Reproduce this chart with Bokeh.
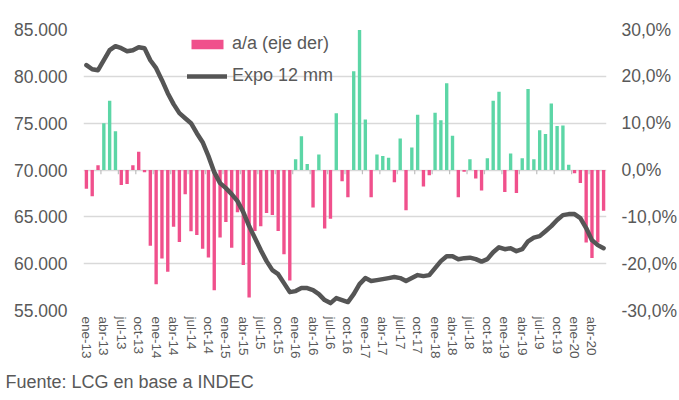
from bokeh.plotting import figure
from bokeh.models import (Range1d, LinearAxis, FixedTicker, Title, Legend,
                          LegendItem, ColumnDataSource)
from bokeh.embed import file_html
from bokeh.resources import INLINE

# ---------------- data ----------------
month_names = ["ene", "feb", "mar", "abr", "may", "jun",
               "jul", "ago", "sep", "oct", "nov", "dic"]
years = ["13", "14", "15", "16", "17", "18", "19", "20"]
n_months = 90  # ene-13 .. jun-20
labels = [f"{m}-{y}" for y in years for m in month_names][:n_months]

# a/a (eje der), % interanual
yoy = [-4.0, -5.6, 1.0, 10.0, 14.8, 8.3, -3.2, -3.0, 1.0, 3.9, -0.5, -16.2,
       -24.4, -18.9, -21.7, -12.1, -15.4, -5.2, -13.1, -13.9, -16.8, -18.7, -25.7, -14.4,
       -11.1, -16.6, -9.0, -20.3, -27.2, -13.0, -12.0, -9.2, -9.6, -13.0, -18.0, -23.6,
       2.3, 7.2, 1.3, -8.0, 3.3, -12.5, -10.4, 12.1, -2.4, -5.8, 21.1, 29.9,
       10.8, -5.8, 3.3, 3.0, 2.6, -2.6, 6.7, -8.6, 4.8, 11.8, -3.5, -1.1,
       12.2, 10.6, 18.5, 7.3, -5.8, -0.4, 2.3, -1.8, -4.4, 2.5, 14.8, 16.7,
       -4.7, 3.5, -4.9, 2.5, 17.3, 2.3, 8.5, 7.7, 14.2, 9.4, 9.5, 1.1,
       -0.7, -2.8, -15.5, -18.8, -15.5, -8.7]

# Expo 12 mm (millones USD)
expo = [81200, 80760, 80650, 81720, 82790, 83220, 83000, 82680, 82790, 83110, 83000, 81720,
        80870, 79590, 78200, 77030, 76070, 75530, 75000, 73930, 72970, 71480, 69770, 68600,
        68060, 67420, 66680, 65500, 64010, 62730, 61450, 60270, 59310, 58880, 57920, 56960,
        57070, 57390, 57390, 57180, 56750, 56110, 55790, 56320, 56110, 55900, 56750, 57820,
        58460, 58140, 58240, 58350, 58460, 58570, 58460, 58140, 58460, 58780, 58670, 58780,
        59530, 60270, 60800, 60800, 60480, 60590, 60640, 60480, 60220, 60480, 61220, 61750,
        61540, 61650, 61330, 61540, 62390, 62780, 62940, 63470, 64010, 64660, 65180, 65290,
        65290, 64860, 63800, 62510, 61980, 61650]

# positive months that the source draws in the "a/a" (pink) colour
pink_positive = ["mar-13", "sep-13", "oct-13"]

left_ticks = [55000, 60000, 65000, 70000, 75000, 80000, 85000]
right_ticks = [-30, -20, -10, 0, 10, 20, 30]
source_text = "Fuente: LCG en base a INDEC"

# ---------------- styles ----------------
PINK = "#F0508C"
GREEN = "#5CD6A6"
LINE = "#555555"
TEXT = "#595959"
GRID = "#D9D9D9"
FONT = "Liberation Sans"

xs = list(range(n_months))
pink_idx = [i for i in xs if yoy[i] < 0 or labels[i] in pink_positive]
green_idx = [i for i in xs if i not in pink_idx]

src_pink = ColumnDataSource(dict(x=[xs[i] for i in pink_idx], top=[yoy[i] for i in pink_idx]))
src_green = ColumnDataSource(dict(x=[xs[i] for i in green_idx], top=[yoy[i] for i in green_idx]))
src_line = ColumnDataSource(dict(x=xs, y=expo))

p = figure(width=679, height=400, output_backend="svg", toolbar_location=None,
           x_range=Range1d(-0.5, n_months - 0.5),
           y_range=Range1d(left_ticks[0], left_ticks[-1]),
           min_border_left=83, min_border_right=73,
           min_border_top=29, min_border_bottom=90)
p.extra_y_ranges = {"right": Range1d(right_ticks[0], right_ticks[-1])}
p.outline_line_color = None
p.background_fill_color = "white"
p.border_fill_color = "white"

# grid
p.xgrid.visible = False
p.ygrid.ticker = FixedTicker(ticks=left_ticks)
p.ygrid.grid_line_color = GRID
p.ygrid.grid_line_width = 1.3

# left axis
ya = p.yaxis[0]
ya.ticker = FixedTicker(ticks=left_ticks)
ya.major_label_overrides = {t: f"{t:,}".replace(",", ".") for t in left_ticks}
ya.axis_line_color = None
ya.major_tick_line_color = None
ya.minor_tick_line_color = None
ya.major_tick_out = 0
ya.major_label_standoff = 16
ya.major_label_text_font_size = "17.5px"
ya.major_label_text_color = TEXT
ya.major_label_text_font = FONT

# right axis
ra = LinearAxis(y_range_name="right", ticker=FixedTicker(ticks=right_ticks))
ra.major_label_overrides = {t: f"{t:.1f}%".replace(".", ",") for t in right_ticks}
ra.axis_line_color = None
ra.major_tick_line_color = None
ra.minor_tick_line_color = None
ra.major_tick_out = 0
ra.major_label_standoff = 15
ra.major_label_text_font_size = "17.5px"
ra.major_label_text_color = TEXT
ra.major_label_text_font = FONT
p.add_layout(ra, "right")

# x axis
xa = p.xaxis[0]
label_pos = list(range(0, n_months, 3))
xa.ticker = FixedTicker(ticks=label_pos)
xa.major_label_overrides = {i: labels[i] for i in label_pos}
xa.major_label_orientation = "vertical"
xa.axis_line_color = None
xa.major_tick_line_color = None
xa.minor_tick_line_color = None
xa.major_tick_out = 0
xa.major_label_standoff = 6
xa.major_label_text_font_size = "13.5px"
xa.major_label_text_color = TEXT
xa.major_label_text_font = FONT

# category tick marks on the zero line
bounds = [i - 0.5 for i in range(3, n_months, 3)]
p.segment(x0=bounds, x1=bounds, y0=[0] * len(bounds), y1=[-0.9] * len(bounds),
          y_range_name="right", line_color="#BFBFBF", line_width=1.2)

# bars
r_pink = p.vbar(x="x", top="top", bottom=0, width=0.58, source=src_pink,
                y_range_name="right", fill_color=PINK, line_color=None)
r_green = p.vbar(x="x", top="top", bottom=0, width=0.58, source=src_green,
                 y_range_name="right", fill_color=GREEN, line_color=None)

# line
r_line = p.line(x="x", y="y", source=src_line, line_color=LINE, line_width=4.5,
                line_join="round", line_cap="round")

legend = Legend(items=[LegendItem(label="a/a (eje der)", renderers=[r_pink]),
                       LegendItem(label="Expo 12 mm", renderers=[r_line])],
                location=(104, 224), border_line_color=None,
                background_fill_alpha=0, glyph_width=40, glyph_height=12,
                label_standoff=5, spacing=11, padding=0, margin=0,
                label_text_font_size="18px", label_text_color=TEXT,
                label_text_font=FONT)
p.add_layout(legend)

src_title = Title(text=source_text, align="left", offset=-78, standoff=17,
                  text_font_size="18px", text_color=TEXT, text_font=FONT,
                  text_font_style="normal")
p.add_layout(src_title, "below")

open("out.html", "w").write(file_html(p, INLINE))
